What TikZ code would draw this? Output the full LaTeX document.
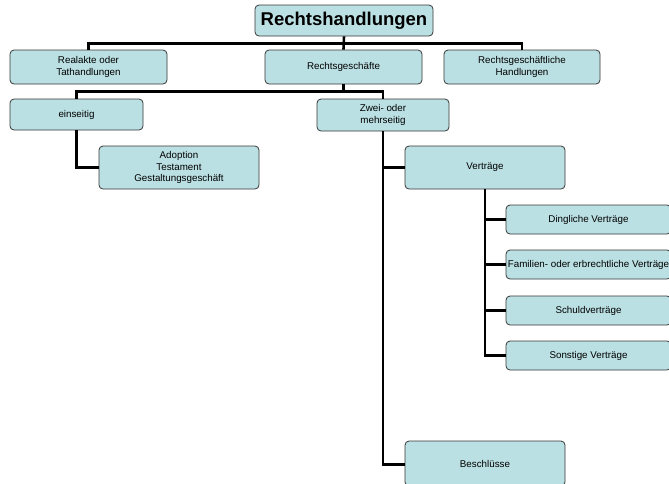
\documentclass[tikz,border=0pt]{standalone}
\usepackage{fontspec}
\setmainfont{Liberation Sans}
\definecolor{boxfill}{RGB}{187,224,227}
\definecolor{boxline}{RGB}{55,55,55}
\begin{document}
\begin{tikzpicture}[x=1pt,y=-1pt,
  box/.style={draw=boxline,line width=0.8pt,fill=boxfill,rounded corners=4pt,
    inner sep=0pt,align=center,font=\fontsize{9.8}{11.5}\selectfont},
  conn/.style={line width=2.6pt,black}]
\useasboundingbox (0,0) rectangle (669,483);
\clip (0,0) rectangle (669,483);
\node[box,minimum width=178pt,minimum height=31pt,font=\fontsize{18.5}{20}\selectfont\bfseries] (root) at (344,20.5) {Rechtshandlungen};
\node[box,minimum width=157pt,minimum height=34pt] (real) at (88.5,67) {Realakte oder\\Tathandlungen};
\node[box,minimum width=157pt,minimum height=34pt] (rg) at (343.5,67) {Rechtsgeschäfte};
\node[box,minimum width=156pt,minimum height=34pt] (rgh) at (522,67) {Rechtsgeschäftliche\\Handlungen};
\node[box,minimum width=133pt,minimum height=31pt] (eins) at (76.5,114.5) {einseitig};
\node[box,minimum width=132pt,minimum height=32pt] (zwei) at (383,115) {Zwei- oder\\mehrseitig};
\node[box,minimum width=160pt,minimum height=43pt] (adop) at (179,167.5) {Adoption\\Testament\\Gestaltungsgeschäft};
\node[box,minimum width=160pt,minimum height=43pt] (vert) at (485,167.5) {Verträge};
\node[box,minimum width=165pt,minimum height=29pt] (dingl) at (588.5,219.5) {Dingliche Verträge};
\node[box,minimum width=165pt,minimum height=29pt] (fam) at (588.5,264.5) {Familien- oder erbrechtliche Verträge};
\node[box,minimum width=165pt,minimum height=29pt] (schuld) at (588.5,310.5) {Schuldverträge};
\node[box,minimum width=165pt,minimum height=29pt] (sonst) at (588.5,355.5) {Sonstige Verträge};
\node[box,minimum width=160pt,minimum height=45pt] (besch) at (485,463.5) {Beschlüsse};
% connectors level 1
\draw[conn] (root.south) -- (rg.north);
\draw[conn] (real.north) -- ++(0,-6) -| (rgh.north);
% level 2
\draw[conn] (rg.south) -- ++(0,8);
\draw[conn] (eins.north) -- ++(0,-7) -| (zwei.north);
% einseitig
\draw[conn] (eins.south) |- (adop.west);
% zwei
\draw[conn] (zwei.south) |- (vert.west);
\draw[conn] (zwei.south) |- ([yshift=-1pt]besch.west);
% vertraege
\draw[conn] (vert.south) |- (dingl.west);
\draw[conn] (vert.south) |- (fam.west);
\draw[conn] (vert.south) |- (schuld.west);
\draw[conn] (vert.south) |- (sonst.west);
\end{tikzpicture}
\end{document}
